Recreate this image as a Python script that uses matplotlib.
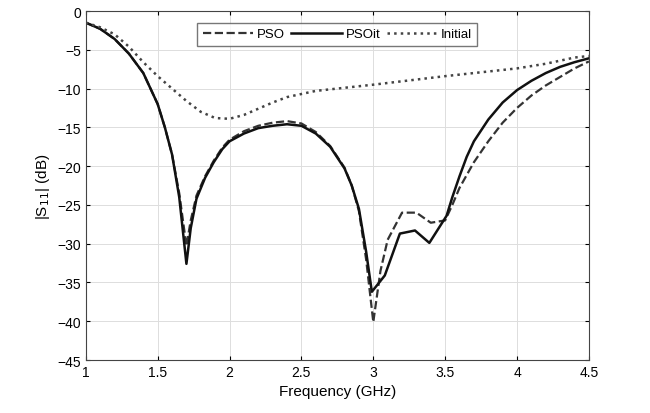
import numpy as np
import matplotlib.pyplot as plt

# PSOit (solid)
f_it = [1.0, 1.1, 1.2, 1.3, 1.4, 1.5, 1.55, 1.6, 1.65, 1.7, 1.73, 1.77, 1.83, 1.89, 1.95, 2.0, 2.1, 2.2,
        2.3, 2.4, 2.5, 2.6, 2.7, 2.8, 2.85, 2.9, 2.95, 2.99, 3.08, 3.185, 3.29, 3.39, 3.51, 3.55, 3.6,
        3.65, 3.7, 3.8, 3.9, 4.0, 4.1, 4.2, 4.3, 4.4, 4.5]
s_it = [-1.5, -2.3, -3.6, -5.5, -8.0, -12.0, -15.0, -18.5, -24.0, -32.6, -28.0, -24.2, -21.5, -19.5, -17.8,
        -16.8, -15.8, -15.1, -14.8, -14.6, -14.8, -15.8, -17.5, -20.3, -22.5, -25.5, -31.0, -36.2, -34.1,
        -28.7, -28.3, -29.9, -26.4, -24.0, -21.3, -18.8, -16.8, -14.0, -11.8, -10.2, -9.0, -8.0, -7.2,
        -6.6, -6.1]

# PSO (dashed)
f_pso = [1.0, 1.1, 1.2, 1.3, 1.4, 1.5, 1.55, 1.6, 1.65, 1.7, 1.73, 1.77, 1.83, 1.89, 1.95, 2.0, 2.1, 2.2,
         2.3, 2.4, 2.5, 2.6, 2.7, 2.8, 2.85, 2.9, 2.95, 3.0, 3.05, 3.1, 3.2, 3.3, 3.4, 3.5, 3.55, 3.6,
         3.7, 3.8, 3.9, 4.0, 4.1, 4.2, 4.3, 4.4, 4.5]
s_pso = [-1.5, -2.3, -3.6, -5.5, -8.0, -12.0, -15.0, -18.5, -23.5, -30.3, -27.0, -23.8, -21.3, -19.3, -17.6,
         -16.6, -15.5, -14.8, -14.4, -14.2, -14.5, -15.6, -17.4, -20.2, -22.5, -25.8, -32.0, -40.1, -33.5,
         -29.5, -26.0, -26.0, -27.3, -27.0, -25.0, -22.8, -19.5, -16.8, -14.4, -12.5, -10.9, -9.6, -8.5,
         -7.4, -6.5]

# Initial (dotted)
f_init = [1.0, 1.1, 1.2, 1.3, 1.4, 1.5, 1.6, 1.7, 1.8, 1.9, 2.0, 2.1, 2.2, 2.3, 2.4, 2.6, 2.8, 3.0,
          3.5, 4.0, 4.2, 4.4, 4.5]
s_init = [-1.5, -2.1, -3.0, -4.6, -6.6, -8.4, -10.0, -11.6, -13.0, -13.8, -13.9, -13.4, -12.6, -11.8,
          -11.1, -10.3, -9.9, -9.5, -8.4, -7.4, -6.8, -6.0, -5.8]

plt.rcParams['font.family'] = ['Liberation Sans', 'DejaVu Sans']
fig = plt.figure(figsize=(6.5, 4.14), dpi=100)
ax = fig.add_axes([0.132, 0.128, 0.774, 0.843])

ax.plot(f_pso, s_pso, '--', color='#333333', lw=1.6, label='PSO')
ax.plot(f_it, s_it, '-', color='#111111', lw=1.8, label='PSOit')
ax.plot(f_init, s_init, ':', color='#444444', lw=1.8, label='Initial')

ax.set_xlim(1, 4.5)
ax.set_ylim(-45, 0)
ax.set_xticks(np.arange(1, 4.51, 0.5))
ax.set_xticklabels(['1', '1.5', '2', '2.5', '3', '3.5', '4', '4.5'])
ax.set_yticks(np.arange(-45, 0.1, 5))
ax.grid(True, color='#dddddd', lw=0.7)
ax.tick_params(direction='in', labelsize=10, top=True, right=True, length=3)
for s in ax.spines.values():
    s.set_color('#444444')
ax.set_xlabel('Frequency (GHz)', fontsize=11)
ax.set_ylabel('|S$_{11}$| (dB)', fontsize=11)
ax.legend(loc='upper center', ncol=3, fontsize=9.5, frameon=True, fancybox=False,
          edgecolor='#555555', handlelength=3.8, columnspacing=0.5, handletextpad=0.3,
          borderpad=0.4, bbox_to_anchor=(0.5, 0.985))

fig.savefig('out.png')
